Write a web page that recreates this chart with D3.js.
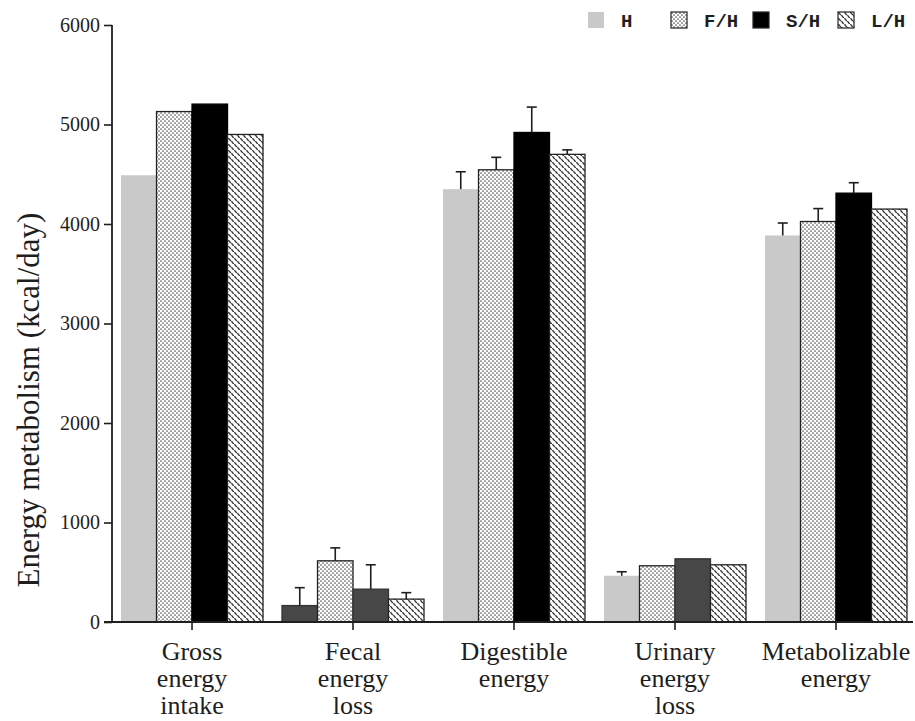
<!DOCTYPE html>
<html>
<head>
<meta charset="utf-8">
<script src="https://cdn.jsdelivr.net/npm/d3@7"></script>
<style>
  html, body { margin: 0; padding: 0; background: #ffffff; }
  svg { display: block; }
</style>
</head>
<body>
<svg id="chart" width="915" height="721"></svg>
<script>
// Energy budget components per treatment group
const categories = ["Gross energy intake", "Fecal energy loss", "Digestible energy", "Urinary energy loss", "Metabolizable energy"];
const categoryLines = [["Gross", "energy", "intake"], ["Fecal", "energy", "loss"], ["Digestible", "energy"], ["Urinary", "energy", "loss"], ["Metabolizable", "energy"]];
const series = ["H", "F/H", "S/H", "L/H"];

// Means (kcal/day), one array per group, in category order
const valuesH  = [4490, 165, 4350, 465, 3885];
const valuesFH = [5130, 615, 4545, 565, 4025];
const valuesSH = [5205, 330, 4920, 635, 4310];
const valuesLH = [4900, 230, 4700, 575, 4150];

// Standard errors (0 = no bar drawn)
const errH  = [0, 180, 175, 40, 125];
const errFH = [0, 130, 125, 0, 130];
const errSH = [0, 245, 255, 0, 105];
const errLH = [0, 65, 45, 0, 0];

const yTicks = [0, 1000, 2000, 3000, 4000, 5000, 6000];
const yTitle = "Energy metabolism (kcal/day)";

// Cells printed in dark gray instead of the series fill
const darkCells = [["Fecal energy loss", "H"], ["Fecal energy loss", "S/H"], ["Urinary energy loss", "S/H"]];

const valueBySeries = { "H": valuesH, "F/H": valuesFH, "S/H": valuesSH, "L/H": valuesLH };
const errBySeries = { "H": errH, "F/H": errFH, "S/H": errSH, "L/H": errLH };

const svg = d3.select("#chart");
const defs = svg.append("defs");

// Halftone dot fill
const dots = defs.append("pattern").attr("id", "pat-dots")
  .attr("patternUnits", "userSpaceOnUse").attr("width", 4).attr("height", 4);
dots.append("rect").attr("width", 4).attr("height", 4).attr("fill", "#ffffff");
dots.append("circle").attr("cx", 1).attr("cy", 1).attr("r", 0.85).attr("fill", "#555");
dots.append("circle").attr("cx", 3).attr("cy", 3).attr("r", 0.85).attr("fill", "#555");

// Short diagonal dash fill
const dash = defs.append("pattern").attr("id", "pat-dash")
  .attr("patternUnits", "userSpaceOnUse").attr("width", 6).attr("height", 6);
dash.append("rect").attr("width", 6).attr("height", 6).attr("fill", "#ffffff");
dash.append("path").attr("d", "M0.8,0.6 L2.4,2.6 M3.8,3.6 L5.4,5.6")
  .attr("stroke", "#333").attr("stroke-width", 1.4).attr("stroke-linecap", "round");

const fills = { "H": "#c9c9c9", "F/H": "url(#pat-dots)", "S/H": "#000000", "L/H": "url(#pat-dash)" };
const outlines = { "H": "none", "F/H": "#222", "S/H": "#000", "L/H": "#222" };

const x0 = d3.scaleBand().domain(categories).range([112, 916])
  .paddingInner(0.118).paddingOuter(0.056);
const x1 = d3.scaleBand().domain(series).range([0, x0.bandwidth()]).padding(0);
const y = d3.scaleLinear().domain([0, 6000]).range([622, 25]);

const ink = "#1e1e1e";
const serif = "'Liberation Serif', 'DejaVu Serif', serif";

// Bars
const rows = [];
categories.forEach((c, i) => {
  series.forEach(s => {
    rows.push({ cat: c, ser: s, v: valueBySeries[s][i], e: errBySeries[s][i] });
  });
});
const isDark = d => darkCells.some(([c, s]) => c === d.cat && s === d.ser);

const bars = svg.append("g");
bars.selectAll("rect").data(rows).join("rect")
  .attr("x", d => x0(d.cat) + x1(d.ser))
  .attr("y", d => y(d.v))
  .attr("width", x1.bandwidth())
  .attr("height", d => y(0) - y(d.v))
  .attr("fill", d => isDark(d) ? "#474747" : fills[d.ser])
  .attr("stroke", d => isDark(d) ? "#333" : outlines[d.ser])
  .attr("stroke-width", 1.3);

// Error bars (upper only)
const eb = svg.append("g").attr("stroke", ink).attr("stroke-width", 1.6);
rows.filter(d => d.e > 0).forEach(d => {
  const cx = x0(d.cat) + x1(d.ser) + x1.bandwidth() / 2;
  eb.append("line").attr("x1", cx).attr("x2", cx).attr("y1", y(d.v)).attr("y2", y(d.v + d.e));
  eb.append("line").attr("x1", cx - 5).attr("x2", cx + 5).attr("y1", y(d.v + d.e)).attr("y2", y(d.v + d.e));
});

// Y axis
const yAxis = svg.append("g").attr("transform", "translate(112,0)")
  .call(d3.axisLeft(y).tickValues(yTicks).tickSize(8).tickPadding(4).tickFormat(d3.format("d")));
yAxis.select(".domain").attr("stroke", ink).attr("stroke-width", 1.8).attr("d", `M0,${y(6000)}V${y(0)}`);
yAxis.selectAll(".tick line").attr("stroke", ink).attr("stroke-width", 1.6);
yAxis.selectAll(".tick text").attr("fill", ink).style("font-family", serif).style("font-size", "20px");

// X axis
const xAxis = svg.append("g").attr("transform", `translate(0,${y(0)})`)
  .call(d3.axisBottom(x0).tickSize(8).tickFormat(""));
xAxis.select(".domain").attr("stroke", ink).attr("stroke-width", 1.8).attr("d", "M104,0H913");
xAxis.selectAll(".tick line").attr("stroke", ink).attr("stroke-width", 1.6);

// Category labels
categories.forEach((c, i) => {
  const cx = x0(c) + x0.bandwidth() / 2;
  const t = svg.append("text")
    .attr("x", cx)
    .attr("y", 660)
    .attr("text-anchor", "middle")
    .attr("fill", ink)
    .style("font-family", serif)
    .style("font-size", "26px");
  categoryLines[i].forEach((line, j) => {
    t.append("tspan").attr("x", cx).attr("dy", j === 0 ? 0 : 27).text(line);
  });
});

// Y title
svg.append("text")
  .attr("transform", "translate(39,400) rotate(-90)")
  .attr("text-anchor", "middle")
  .attr("fill", ink)
  .style("font-family", serif)
  .style("font-size", "31px")
  .text(yTitle);

// Legend
const legendX = [588, 671, 753, 838];
const legend = svg.append("g");
series.forEach((s, i) => {
  const g = legend.append("g").attr("transform", `translate(${legendX[i]},12)`);
  g.append("rect").attr("width", 16).attr("height", 16)
    .attr("fill", fills[s])
    .attr("stroke", s === "H" ? "none" : "#222").attr("stroke-width", 1.2);
  g.append("text").attr("x", s === "H" ? 33 : 33).attr("y", 15)
    .attr("fill", ink)
    .style("font-family", "'Liberation Mono', 'DejaVu Sans Mono', monospace")
    .style("font-weight", "bold")
    .style("font-size", "19px")
    .text(s);
});
</script>
</body>
</html>
